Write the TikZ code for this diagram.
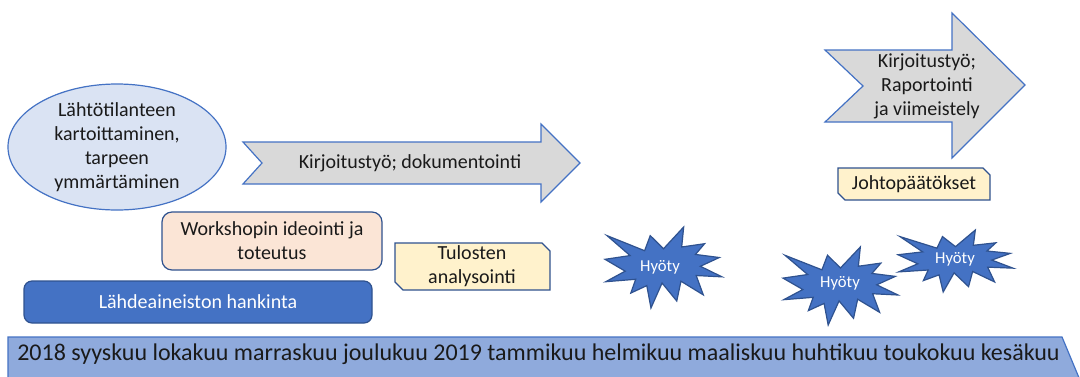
\documentclass[tikz,border=0pt]{standalone}
\usepackage{fontspec}
\setmainfont{Carlito}
\usetikzlibrary{shapes.geometric}
\definecolor{acc}{HTML}{4472C4}
\definecolor{accdark}{HTML}{2F528F}
\definecolor{ellfill}{HTML}{DAE3F3}
\definecolor{arrfill}{HTML}{D9D9D9}
\definecolor{peach}{HTML}{FBE5D6}
\definecolor{cream}{HTML}{FFF2CC}
\definecolor{tl}{HTML}{8FAADC}
\definecolor{txt}{HTML}{1A1A1A}
\tikzset{
  base/.style={font=\fontsize{15}{18}\selectfont, text=txt, align=center, inner sep=0pt},
  arrowshape/.style={fill=arrfill, draw=acc, line width=0.9pt, line join=miter},
  snipbox/.style={fill=cream, draw=accdark, line width=0.9pt},
  startext/.style={font=\fontsize{12.5}{15}\selectfont, text=white, inner sep=0pt},
  explosion/.style={fill=acc, draw=accdark, line width=0.9pt},
}
\newcommand{\explosionpath}[5]{%
  \begin{scope}[shift={(#1,#2)}, xscale=#3/216, yscale=#4/216]
    \path[#5] (108,58) -- (145.22,0) -- (141.55,53.25) -- (183.80,44.57) -- (167.02,73.15)
      -- (210.97,81.37) -- (176.07,104.75) -- (216,132.90) -- (168.37,129.42)
      -- (181.45,180.95) -- (140.20,144.57) -- (132.47,197.37) -- (105.32,149.35)
      -- (84.85,216) -- (77.15,156.27) -- (47.62,176.17) -- (56.67,139.37)
      -- (1.35,145.87) -- (37.22,117.75) -- (0,86.15) -- (46.27,76.17)
      -- (3.70,22.95) -- (73.12,63.20) -- (83.52,22.95) -- cycle;
  \end{scope}}
\begin{document}
\begin{tikzpicture}[x=0.75pt, y=-0.75pt]
\useasboundingbox (0,0) rectangle (1080,376);
\clip (0,0) rectangle (1080,376);
\fill[white] (0,0) rectangle (1080,376);

% timeline
\path[fill=tl, draw=acc, line width=0.9pt] (8,337) -- (1062,337) -- (1082,385) -- (1062,433) -- (8,433) -- cycle;
\node[base, font=\fontsize{18}{21}\selectfont, anchor=west] (timeline) at (17,354)
  {2018 syyskuu lokakuu marraskuu joulukuu 2019 tammikuu helmikuu maaliskuu huhtikuu toukokuu kesäkuu};

% ellipse
\draw[fill=ellfill, draw=acc, line width=0.9pt] (117,147) ellipse [x radius=109, y radius=63];
\node[base] (elltext) at (117,147) {Lähtötilanteen\\kartoittaminen,\\tarpeen\\ymmärtäminen};

% arrow 1
\path[arrowshape] (243,142) -- (541,142) -- (541,124) -- (580,163) -- (541,202) -- (541,184) -- (243,184) -- (262,163) -- cycle;
\node[base] (arrow1) at (410,163) {Kirjoitustyö; dokumentointi};

% arrow 2
\path[arrowshape] (825,50) -- (952,50) -- (952,13) -- (1025,85) -- (952,158) -- (952,122) -- (825,122) -- (863,86) -- cycle;
\node[base] (arrow2) at (927,86) {Kirjoitustyö;\\Raportointi\\ja viimeistely};

% workshop
\draw[fill=peach, draw=accdark, line width=0.9pt, rounded corners=7.5pt] (162,212) rectangle (382,270);
\node[base] (workshop) at (272,241) {Workshopin ideointi ja\\toteutus};

% hankinta
\draw[fill=acc, draw=accdark, line width=0.9pt, rounded corners=6pt] (24,281) rectangle (372,323);
\node[base, text=white] (hankinta) at (198,302) {Lähdeaineiston hankinta};

% tulosten
\path[snipbox] (395,243) -- (542,243) -- (550,251) -- (550,290) -- (403,290) -- (395,282) -- cycle;
\node[base] (tulosten) at (472,266.5) {Tulosten\\analysointi};

% johtopaatokset
\path[snipbox] (838,168) -- (983,168) -- (990,175) -- (990,200) -- (845,200) -- (838,193) -- cycle;
\node[base] (johto) at (914,184) {Johtopäätökset};

% explosions
\explosionpath{605}{227}{117}{81}{explosion}
\node[startext] (hyoty1) at (660,267) {Hyöty};
\explosionpath{783}{247}{115}{78}{explosion}
\node[startext] (hyoty2) at (840,283) {Hyöty};
\explosionpath{898}{230}{115}{62}{explosion}
\node[startext] (hyoty3) at (955,259) {Hyöty};
\end{tikzpicture}
\end{document}
